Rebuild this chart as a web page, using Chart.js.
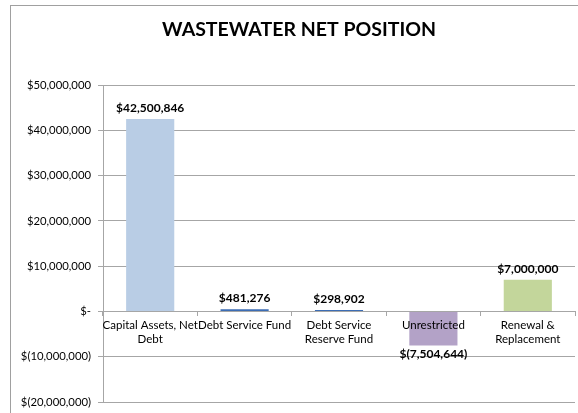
<!DOCTYPE html>
<html>
<head>
<meta charset="utf-8">
<script src="https://cdn.jsdelivr.net/npm/chart.js@4.4.0/dist/chart.umd.min.js"></script>
<style>
    html, body { margin: 0; padding: 0; background: #fff; overflow: hidden; }
    #frame {
        position: absolute; left: 10px; top: 5px;
        width: 590px; height: 430px;
        border: 1px solid #a0a0a0; box-sizing: border-box;
        background: #fff;
    }
    #wrap { position: absolute; left: -1px; top: -1px; width: 580px; height: 420px; }
</style>
</head>
<body>
<div id="frame"><div id="wrap"><canvas id="netChart"></canvas></div></div>
<script>
const chartTitle = 'WASTEWATER NET POSITION';
const categories = [
    ['Capital Assets, Net', 'Debt'],
    'Debt Service Fund',
    ['Debt Service', 'Reserve Fund'],
    'Unrestricted',
    ['Renewal &', 'Replacement']
];
const netValues = [42500846, 481276, 298902, -7504644, 7000000];
const barColors = ['#b9cde5', '#3c6db4', '#3c6db4', '#b3a2c7', '#c3d69b'];
const yTicks = [-20000000, -10000000, 0, 10000000, 20000000, 30000000, 40000000, 50000000];

function formatMoney(v) {
    if (v === 0) return '$-';
    const s = Math.abs(v).toLocaleString('en-US');
    return v < 0 ? '$(' + s + ')' : '$' + s;
}

// title centred on the whole chart box, not on the padded area
const titleText = {
    id: 'titleText',
    afterDraw(chart) {
        const ctx = chart.ctx;
        ctx.save();
        ctx.font = 'bold 19.5px Lato';
        ctx.fillStyle = '#000';
        ctx.textAlign = 'center';
        ctx.textBaseline = 'middle';
        ctx.fillText(chartTitle, 289, 25);
        ctx.restore();
    }
};

// draws the value above (or below, for negatives) each bar
const valueLabels = {
    id: 'valueLabels',
    afterDraw(chart) {
        const ctx = chart.ctx;
        const meta = chart.getDatasetMeta(0);
        ctx.save();
        ctx.font = 'bold 12px Lato';
        ctx.fillStyle = '#000';
        ctx.textAlign = 'center';
        meta.data.forEach((bar, i) => {
            const v = netValues[i];
            if (v >= 0) {
                ctx.textBaseline = 'bottom';
                ctx.fillText(formatMoney(v), bar.x, bar.y - 5);
            } else {
                ctx.textBaseline = 'top';
                ctx.fillText(formatMoney(v), bar.x, bar.y + 3);
            }
        });
        ctx.restore();
    }
};

new Chart(document.getElementById('netChart'), {
    type: 'bar',
    data: {
        labels: categories,
        datasets: [{
            data: netValues,
            backgroundColor: barColors,
            barPercentage: 0.51,
            categoryPercentage: 1
        }]
    },
    options: {
        responsive: true,
        maintainAspectRatio: false,
        animation: false,
        layout: { padding: { left: 0, right: 15, top: 80, bottom: 23 } },
        plugins: {
            legend: { display: false },
            tooltip: { enabled: false },
            title: { display: false }
        },
        scales: {
            x: {
                position: { y: 0 },
                offset: true,
                grid: { display: true, drawOnChartArea: false, offset: true, tickLength: 4, color: '#a6a6a6' },
                border: { color: '#a6a6a6' },
                ticks: {
                    z: 1,
                    color: '#000',
                    font: { family: 'Lato', size: 11.5 },
                    maxRotation: 0, autoSkip: false, padding: 3
                }
            },
            y: {
                min: -20000000,
                max: 50000000,
                afterBuildTicks(scale) { scale.ticks = yTicks.map(v => ({ value: v })); },
                afterFit(scale) { scale.width = 93; },
                grid: { color: '#a6a6a6', tickLength: 5 },
                border: { color: '#a6a6a6' },
                ticks: {
                    color: '#000',
                    font: { family: 'Lato', size: 11.3 },
                    padding: 7,
                    callback: v => formatMoney(v)
                }
            }
        }
    },
    plugins: [titleText, valueLabels]
});
</script>
</body>
</html>
